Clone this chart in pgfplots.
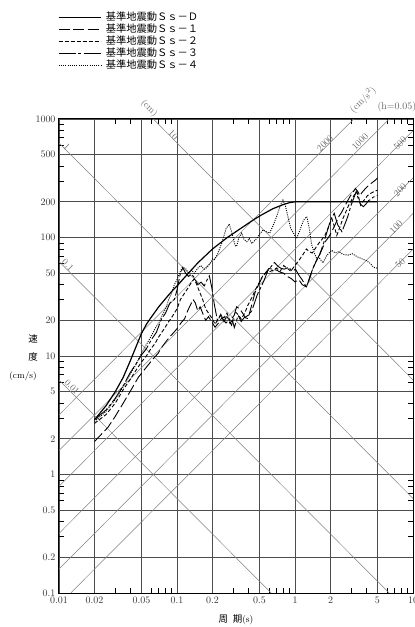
\documentclass[border=0pt]{standalone}
\usepackage{fontspec}
\usepackage{pgfplots}
\pgfplotsset{compat=1.18}
\newfontfamily\cjk{Noto Sans CJK JP}
\tikzset{
  diag/.style={black!50, line width=0.5bp},
  dlbl/.style={font=\fontsize{9.5}{9.5}\selectfont, text=black!60, inner sep=0.5bp},
}

\begin{document}
\begin{tikzpicture}
\begin{axis}[
  at={(59bp,34bp)}, anchor=south west,
  scale only axis, width=354bp, height=474bp,
  xmode=log, ymode=log,
  xmin=0.01, xmax=10, ymin=0.1, ymax=1000,
  xtick={0.01,0.02,0.05,0.1,0.2,0.5,1,2,5,10},
  xticklabels={0.01,0.02,0.05,0.1,0.2,0.5,1,2,5,10},
  ytick={0.1,0.2,0.5,1,2,5,10,20,50,100,200,500,1000},
  yticklabels={0.1,0.2,0.5,1,2,5,10,20,50,100,200,500,1000},
  minor xtick={0.03,0.04,0.06,0.07,0.08,0.09,0.3,0.4,0.6,0.7,0.8,0.9,3,4,6,7,8,9},
  minor ytick={0.3,0.4,0.6,0.7,0.8,0.9,3,4,6,7,8,9,30,40,60,70,80,90,300,400,600,700,800,900},
  grid=major, major grid style={black!70, line width=0.7bp},
  major tick length=0pt, minor tick length=5bp,
  tick align=inside, tick style={black, line width=0.6bp},
  axis line style={line width=1bp},
  ticklabel style={font=\fontsize{10}{10}\selectfont, text=black!80},
  clip mode=individual,
  legend style={at={(axis description cs:-0.003,1.227)}, anchor=north west,
    draw=none, fill=none, inner sep=0pt, row sep=0bp,
    font=\cjk\fontsize{10.3}{10.3}\selectfont,
    nodes={inner sep=0.5bp, text height=8bp, text depth=3bp},
    /tikz/every odd column/.style={column sep=4bp},
    cells={anchor=west}},
  legend image code/.code={\draw[#1] (0bp,0bp) -- (42bp,0bp);},
]
% displacement lines (cm)
\addplot[diag, forget plot] coordinates {(0.01,6.2832) (0.62832,0.1)};
\addplot[diag, forget plot] coordinates {(0.01,62.832) (6.2832,0.1)};
\addplot[diag, forget plot] coordinates {(0.01,628.32) (10,0.62832)};
\addplot[diag, forget plot] coordinates {(0.062832,1000) (10,6.2832)};
% acceleration lines (cm/s^2)
\addplot[diag, forget plot] coordinates {(0.01,3.1831) (3.1416,1000)};
\addplot[diag, forget plot] coordinates {(0.01,1.5915) (6.2832,1000)};
\addplot[diag, forget plot] coordinates {(0.01,0.79577) (10,795.77)};
\addplot[diag, forget plot] coordinates {(0.01,0.31831) (10,318.31)};
\addplot[diag, forget plot] coordinates {(0.01,0.15915) (10,159.15)};
\addplot[diag, forget plot] coordinates {(0.012566,0.1) (10,79.577)};

% Ss-D
\addplot[black, line width=1.2bp] coordinates {
(0.02,2.9)(0.025,3.8)(0.03,5.0)(0.035,6.6)(0.04,9.0)(0.045,12)(0.05,15.5)(0.055,18.5)(0.06,21)(0.07,26)(0.08,30.5)(0.09,35)(0.1,39)(0.125,50)(0.15,61)(0.2,80)(0.267,100)(0.35,120)(0.45,142)(0.52,155)(0.65,175)(0.8,190)(0.9,197)(1.0,200)(5,200)};
\addlegendentry{基準地震動Ｓｓ－Ｄ}
% Ss-1
\addplot[black, line width=0.9bp, dash pattern=on 11bp off 3.5bp] coordinates {
(0.02,1.9)(0.023,2.2)(0.026,2.5)(0.03,3.1)(0.035,4.0)(0.04,5.0)(0.047,6.6)(0.052,7.5)(0.057,8.4)(0.063,9.5)(0.069,10.5)(0.075,12)(0.082,13.5)(0.089,14.9)(0.095,16)(0.1,17)(0.108,19)(0.116,20.6)(0.123,24)(0.13,27)(0.137,30)(0.143,28)(0.15,24)(0.157,26)(0.165,23)(0.175,20)(0.185,21.5)(0.197,19.4)(0.21,17.5)(0.225,19)(0.24,21)(0.26,19)(0.275,20)(0.29,18.2)(0.305,22)(0.32,26)(0.34,25)(0.36,23)(0.38,21)(0.4,20.7)(0.43,27)(0.46,34.7)(0.49,40)(0.52,45)(0.56,50)(0.6,54.7)(0.65,54)(0.7,53)(0.75,51)(0.8,50)(0.86,47)(0.93,45)(1.0,42.2)(1.08,44)(1.15,40)(1.25,38.3)(1.33,45)(1.42,55)(1.5,62)(1.6,70)(1.7,80)(1.8,92)(1.92,100)(2.05,112)(2.2,130)(2.35,150)(2.5,165)(2.65,185)(2.8,205)(2.95,225)(3.1,240)(3.25,259)(3.4,245)(3.55,225)(3.7,240)(3.9,255)(4.1,268)(4.2,276)(4.4,285)(4.6,295)(4.8,305)(5.0,318)};
\addlegendentry{基準地震動Ｓｓ－１}
% Ss-2
\addplot[black, line width=0.9bp, dash pattern=on 3.8bp off 2.2bp] coordinates {
(0.02,2.7)(0.025,3.2)(0.03,4.0)(0.035,5.2)(0.04,6.3)(0.045,7.6)(0.05,8.9)(0.055,10)(0.06,11.5)(0.065,12.7)(0.07,14.5)(0.078,17)(0.085,19.5)(0.09,21.1)(0.1,25)(0.107,30)(0.115,33.5)(0.125,38)(0.133,42)(0.14,44.7)(0.147,40)(0.155,35)(0.165,30)(0.175,25)(0.185,23)(0.2,20.5)(0.21,18.5)(0.22,20)(0.235,22)(0.25,21)(0.265,23)(0.28,20)(0.3,21.5)(0.316,23.3)(0.335,22)(0.35,20.5)(0.375,23)(0.4,27)(0.43,31)(0.46,36)(0.5,42)(0.53,47)(0.56,50)(0.6,51)(0.65,53)(0.7,55)(0.75,52)(0.8,58)(0.86,55)(0.92,52)(1.0,58)(1.08,64)(1.17,72)(1.25,80)(1.32,76)(1.4,74)(1.5,82)(1.6,90)(1.7,97)(1.8,105)(1.92,122)(2.05,145)(2.15,125)(2.26,104)(2.4,122)(2.55,145)(2.7,165)(2.85,187)(3.0,205)(3.15,225)(3.35,243)(3.48,215)(3.6,187)(3.75,200)(3.9,210)(4.1,225)(4.35,235)(4.6,242)(4.8,247)(5.0,251)};
\addlegendentry{基準地震動Ｓｓ－２}
% Ss-3
\addplot[black, line width=0.9bp, dash pattern=on 17bp off 2.5bp on 3bp off 2.5bp] coordinates {
(0.02,2.9)(0.025,3.5)(0.03,4.4)(0.035,5.6)(0.04,7.2)(0.045,8.6)(0.05,10.2)(0.055,11.5)(0.06,13.5)(0.067,15.9)(0.074,20.6)(0.08,23)(0.087,28)(0.095,30)(0.1,36)(0.106,48)(0.112,55.7)(0.118,50)(0.125,47)(0.133,49)(0.14,46)(0.15,40)(0.16,42)(0.17,39)(0.18,44)(0.188,47.5)(0.197,38)(0.207,27.4)(0.22,20)(0.235,22.5)(0.25,19.5)(0.265,22)(0.28,19)(0.295,20)(0.306,17.4)(0.32,20)(0.33,22)(0.35,19.5)(0.37,21)(0.4,22)(0.43,24)(0.45,27.4)(0.48,33)(0.52,39)(0.55,44)(0.585,52)(0.62,56)(0.67,61.5)(0.72,57)(0.76,55)(0.81,54)(0.88,56)(0.95,52)(1.01,54)(1.08,48)(1.15,44)(1.25,38)(1.33,46)(1.42,55)(1.52,64)(1.62,72)(1.75,90)(1.9,118)(2.0,140)(2.15,160)(2.3,128)(2.5,112)(2.65,130)(2.8,150)(3.0,190)(3.15,215)(3.3,244)(3.45,210)(3.6,190)(3.8,182)(4.0,192)(4.2,205)(4.4,210)(4.6,219)(4.8,222)(5.0,227)};
\addlegendentry{基準地震動Ｓｓ－３}
% Ss-4
\addplot[black, line width=0.9bp, dash pattern=on 1bp off 1.2bp] coordinates {
(0.02,2.8)(0.025,3.4)(0.03,4.3)(0.035,5.5)(0.04,7.0)(0.045,8.5)(0.05,10.5)(0.055,12.5)(0.06,14.5)(0.065,17)(0.07,19)(0.075,22)(0.08,25)(0.085,30)(0.09,34)(0.095,40)(0.1,44)(0.105,50)(0.111,56)(0.118,55)(0.125,50)(0.133,53)(0.14,50)(0.15,55)(0.159,58)(0.17,54)(0.18,56)(0.19,60)(0.2,66)(0.207,65)(0.22,72)(0.24,90)(0.26,118)(0.277,130)(0.29,112)(0.3,98)(0.31,86)(0.32,84)(0.335,100)(0.353,109)(0.37,96)(0.39,92)(0.41,98)(0.43,89)(0.46,95)(0.5,106)(0.535,116)(0.57,112)(0.61,109)(0.65,125)(0.7,151)(0.75,185)(0.79,207)(0.83,185)(0.87,150)(0.92,120)(0.97,109)(1.03,98)(1.1,115)(1.18,140)(1.26,150)(1.32,120)(1.38,88)(1.45,75)(1.52,67)(1.6,68)(1.72,61)(1.85,70)(2.04,78)(2.2,74)(2.35,76)(2.55,72)(2.8,71)(3.05,73)(3.35,69)(3.7,66)(4.0,64)(4.3,61)(4.64,56)(5,55)};
\addlegendentry{基準地震動Ｓｓ－４}

% diagonal labels
\node[dlbl, rotate=-45] at (axis cs:0.0129,5.47) {0.01};
\node[dlbl, rotate=-45] at (axis cs:0.0119,58.6) {0.1};
\node[dlbl, rotate=-45] at (axis cs:0.01162,584) {1};
\node[dlbl, rotate=-45] at (axis cs:0.0932,733) {10};
\node[dlbl, rotate=-45] at (axis cs:0.058,1230) {(cm)};
\node[dlbl, rotate=45] at (axis cs:1.795,624) {2000};
\node[dlbl, rotate=45] at (axis cs:3.56,643) {1000};
\node[dlbl, rotate=45] at (axis cs:7.78,624) {500};
\node[dlbl, rotate=45] at (axis cs:7.78,252) {200};
\node[dlbl, rotate=45] at (axis cs:7.2,123) {100};
\node[dlbl, rotate=45] at (axis cs:7.78,60.6) {50};
\node[dlbl, rotate=45] at (axis cs:3.77,1446) {(cm/s$^2$)};
\node[font=\fontsize{10}{10}\selectfont, text=black!60] at (axis cs:7.31,1260) {(h=0.05)};
\end{axis}
\node[font=\cjk\fontsize{9.5}{9.5}\selectfont] at (33bp,288bp) {速};
\node[font=\cjk\fontsize{9.5}{9.5}\selectfont] at (33bp,270bp) {度};
\node[font=\fontsize{9}{9}\selectfont] at (23bp,251bp) {(cm/s)};
\node[font=\fontsize{9.5}{9.5}\selectfont] at (236bp,7bp) {{\cjk 周\hspace{0.5em}期}(s)};
\pgfresetboundingbox
\useasboundingbox (0,0) rectangle (415bp,627bp);
\end{tikzpicture}
\end{document}
